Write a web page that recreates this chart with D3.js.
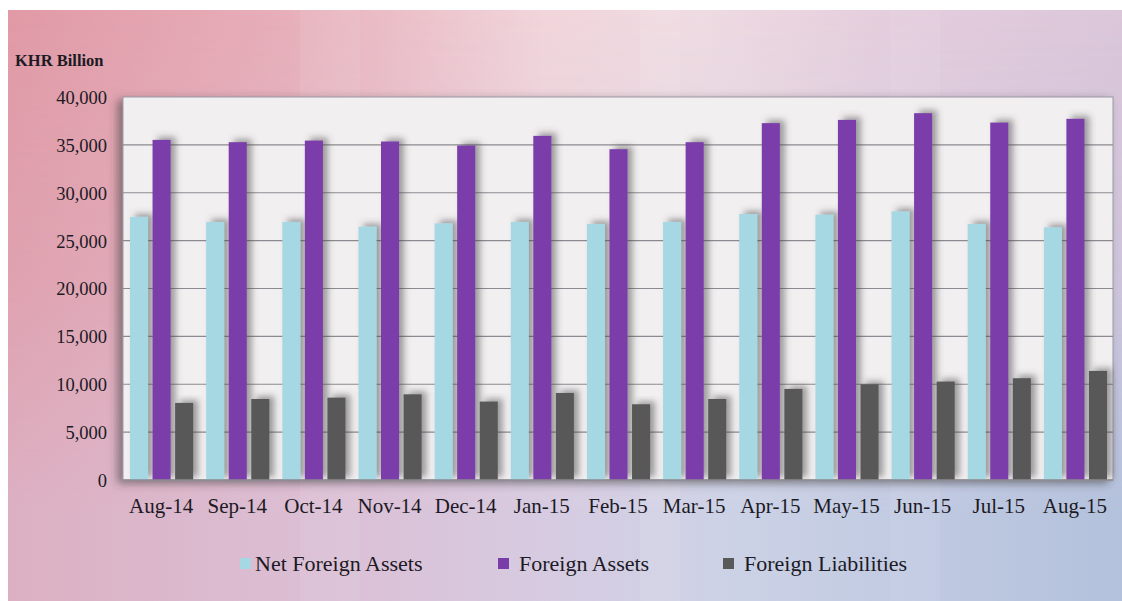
<!DOCTYPE html>
<html lang="en">
	<head>
		<meta charset="utf-8">
		<title>Net Foreign Assets</title>
		<script type="text/javascript" src="https://d3js.org/d3.v7.min.js"></script>
		<style type="text/css">
			body {
				margin:0;
				background-color:white;
			}
		</style>
	</head>
	<body>
		<svg id="chart"></svg>

		<script type="text/javascript">
			var months=["Aug-14","Sep-14","Oct-14","Nov-14","Dec-14","Jan-15","Feb-15","Mar-15","Apr-15","May-15","Jun-15","Jul-15","Aug-15"];
			var netForeignAssets=[27480,26950,26950,26460,26810,26950,26740,26950,27780,27710,28060,26740,26390];
			var foreignAssets=[35520,35280,35450,35350,34930,35940,34550,35280,37270,37610,38310,37330,37720];
			var foreignLiabilities=[8050,8460,8600,8950,8190,9090,7910,8460,9510,10000,10280,10630,11390];
			var seriesNames=["Net Foreign Assets","Foreign Assets","Foreign Liabilities"];
			var yTicks=[0,5000,10000,15000,20000,25000,30000,35000,40000];

			var w=1122;
			var h=601;
			var plot={left:123,right:1113,top:97,bottom:480};
			var colors=["#a6d8e4","#7a3ca9","#595959"];
			var serif="Liberation Serif, Times New Roman, serif";

			var svg=d3.select("#chart")
				.attr("width",w)
				.attr("height",h);

			var defs=svg.append("defs");

			/////////  BACKGROUND  ////////////////////////////////////////////

			var topGrad=defs.append("linearGradient").attr("id","topGrad");
			[["0%","#e19aa6"],["25%","#e7afba"],["48%","#f1d5db"],["62%","#efdbe2"],["80%","#e4cddd"],["100%","#dcc6da"]]
				.forEach(function(s){topGrad.append("stop").attr("offset",s[0]).attr("stop-color",s[1]);});

			var botGrad=defs.append("linearGradient").attr("id","botGrad");
			[["0%","#dcb0c2"],["30%","#dbc0d6"],["50%","#d6cce2"],["65%","#ccd2e6"],["100%","#b3c1dc"]]
				.forEach(function(s){botGrad.append("stop").attr("offset",s[0]).attr("stop-color",s[1]);});

			var fade=defs.append("linearGradient").attr("id","fade")
				.attr("x1",0).attr("y1",0).attr("x2",0).attr("y2",1);
			fade.append("stop").attr("offset","0%").attr("stop-color","white").attr("stop-opacity",0);
			fade.append("stop").attr("offset","45%").attr("stop-color","white").attr("stop-opacity",0.35);
			fade.append("stop").attr("offset","85%").attr("stop-color","white").attr("stop-opacity",1);

			defs.append("mask").attr("id","fadeMask")
				.append("rect")
				.attr("x",8).attr("y",10).attr("width",w-8).attr("height",h-10)
				.attr("fill","url(#fade)");

			svg.append("rect")
				.attr("x",8).attr("y",10).attr("width",w-8).attr("height",h-10)
				.attr("fill","url(#topGrad)");
			svg.append("rect")
				.attr("x",8).attr("y",10).attr("width",w-8).attr("height",h-10)
				.attr("fill","url(#botGrad)")
				.attr("mask","url(#fadeMask)");

			// soft vertical streaks
			var streaks=[[300,60,0.07],[640,40,0.09],[890,50,0.07]];
			svg.selectAll("rect.streak")
				.data(streaks)
				.enter()
				.append("rect")
				.attr("class","streak")
				.attr("x",function(d){return d[0];})
				.attr("y",10)
				.attr("width",function(d){return d[1];})
				.attr("height",h-10)
				.attr("fill","white")
				.attr("opacity",function(d){return d[2];});

			/////////  PLOT AREA  /////////////////////////////////////////////

			var plotShadow=defs.append("filter").attr("id","plotShadow")
				.attr("x","-5%").attr("y","-5%").attr("width","110%").attr("height","115%");
			plotShadow.append("feDropShadow")
				.attr("dx",-5).attr("dy",3).attr("stdDeviation",4)
				.attr("flood-color","#3a3a3a").attr("flood-opacity",0.55);

			var barShadow=defs.append("filter").attr("id","barShadow")
				.attr("x","-50%").attr("y","-10%").attr("width","220%").attr("height","120%");
			barShadow.append("feDropShadow")
				.attr("dx",5).attr("dy",-3).attr("stdDeviation",3)
				.attr("flood-color","#444").attr("flood-opacity",0.5);

			svg.append("rect")
				.attr("x",plot.left)
				.attr("y",plot.top)
				.attr("width",plot.right-plot.left)
				.attr("height",plot.bottom-plot.top)
				.attr("fill","#f2eff1")
				.attr("stroke","#9a98a4")
				.attr("stroke-width",1)
				.attr("filter","url(#plotShadow)");

			/////////  SCALES  ////////////////////////////////////////////////

			var x0=d3.scaleBand()
				.domain(months)
				.range([plot.left,plot.right])
				.padding(0);

			var x1=d3.scaleBand()
				.domain(seriesNames)
				.range([7,x0.bandwidth()-6])
				.paddingInner(0.2);

			var yScale=d3.scaleLinear()
				.domain([0,40000])
				.range([plot.bottom,plot.top]);

			// gridlines
			svg.append("g")
				.selectAll("line")
				.data(yTicks.filter(function(d){return d>0 && d<40000;}))
				.enter()
				.append("line")
				.attr("x1",plot.left)
				.attr("x2",plot.right)
				.attr("y1",function(d){return yScale(d);})
				.attr("y2",function(d){return yScale(d);})
				.attr("stroke","#8c8a90")
				.attr("stroke-width",1.2);

			/////////  BARS  //////////////////////////////////////////////////

			var rows=months.map(function(m,i){
				return {month:m, values:[netForeignAssets[i],foreignAssets[i],foreignLiabilities[i]]};
			});

			var groups=svg.append("g")
				.selectAll("g")
				.data(rows)
				.enter()
				.append("g")
				.attr("transform",function(d){return "translate("+x0(d.month)+",0)";});

			groups.selectAll("rect")
				.data(function(d){return d.values.map(function(v,j){return {name:seriesNames[j],value:v,idx:j};});})
				.enter()
				.append("rect")
				.attr("x",function(d){return x1(d.name);})
				.attr("y",function(d){return yScale(d.value);})
				.attr("width",x1.bandwidth())
				.attr("height",function(d){return yScale(0)-yScale(d.value);})
				.attr("fill",function(d){return colors[d.idx];})
				.attr("filter","url(#barShadow)");

			// baseline
			svg.append("line")
				.attr("x1",plot.left)
				.attr("x2",plot.right)
				.attr("y1",yScale(0))
				.attr("y2",yScale(0))
				.attr("stroke","#8c8a90")
				.attr("stroke-width",1.5);

			/////////  AXES  //////////////////////////////////////////////////

			var yAxis=d3.axisLeft(yScale)
				.tickValues(yTicks)
				.tickFormat(d3.format(","))
				.tickSize(0)
				.tickPadding(0);

			svg.append("g")
				.attr("transform","translate(107,0)")
				.call(yAxis)
				.call(function(g){g.select(".domain").remove();})
				.attr("font-family",serif)
				.selectAll("text")
				.attr("font-family",serif)
				.attr("font-size","18.5px")
				.attr("fill","#1c1a24")
				.attr("dy","0.35em");

			var xAxis=d3.axisBottom(x0)
				.tickSize(0)
				.tickPadding(0);

			svg.append("g")
				.attr("transform","translate(0,"+plot.bottom+")")
				.call(xAxis)
				.call(function(g){g.select(".domain").remove();})
				.attr("font-family",serif)
				.selectAll("text")
				.attr("font-family",serif)
				.attr("font-size","21px")
				.attr("fill","#1c1a24")
				.attr("y",33)
				.attr("dy",0);

			svg.append("text")
				.attr("x",15)
				.attr("y",66)
				.attr("font-family",serif)
				.attr("font-weight","bold")
				.attr("font-size","16.5px")
				.attr("fill","#1c1a24")
				.text("KHR Billion");

			/////////  LEGEND  ////////////////////////////////////////////////

			var legendX=[240,498,723];

			var legend=svg.append("g")
				.selectAll("g")
				.data(seriesNames)
				.enter()
				.append("g")
				.attr("transform",function(d,i){return "translate("+legendX[i]+",0)";});

			legend.append("rect")
				.attr("x",0)
				.attr("y",558)
				.attr("width",11)
				.attr("height",11)
				.attr("fill",function(d,i){return colors[i];});

			legend.append("text")
				.attr("x",function(d,i){return i==0?15:21;})
				.attr("y",571)
				.attr("font-family",serif)
				.attr("font-size","22px")
				.attr("fill","#1c1a24")
				.text(function(d){return d;});
		</script>
	</body>
</html>
